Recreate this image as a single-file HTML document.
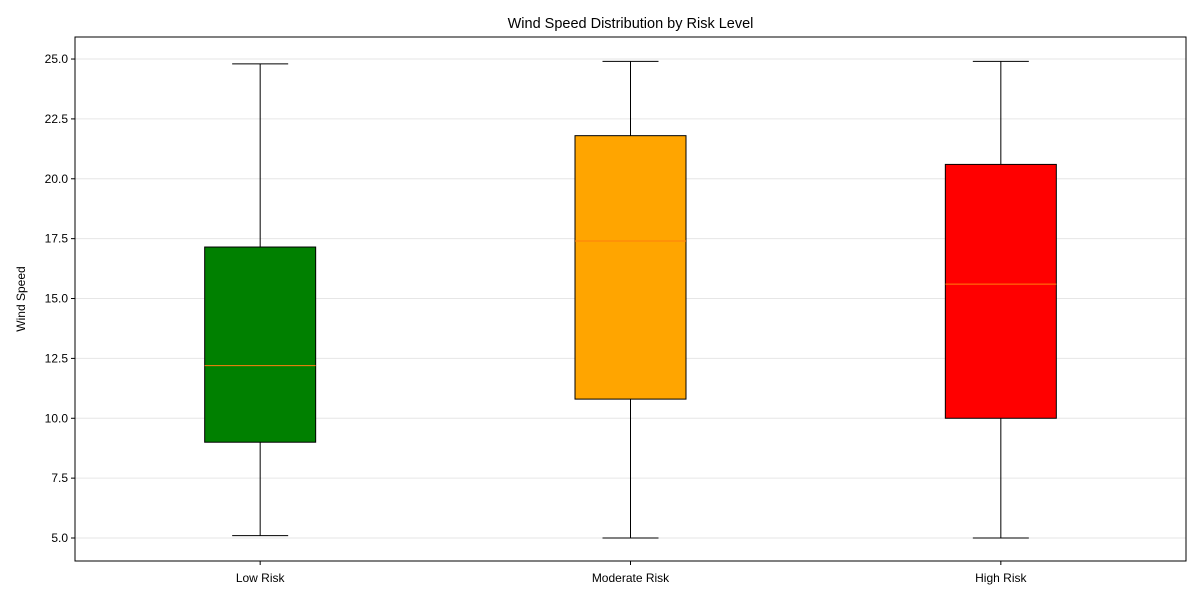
<!DOCTYPE html>
<html><head><meta charset="utf-8"><style>
body{margin:0;background:#fff;font-family:"Liberation Sans",sans-serif;}
svg text{font-family:"Liberation Sans",sans-serif;}
</style></head><body>
<svg id="chart" width="1200" height="600"></svg>
<script>
const categories=["Low Risk","Moderate Risk","High Risk"];
const colors=["#008000","#ffa500","#ff0000"];
const whiskerLow=[5.1,5.0,5.0];
const whiskerHigh=[24.8,24.9,24.9];
const q1=[9.0,10.8,10.0];
const q3=[17.15,21.8,20.6];
const medians=[12.2,17.4,15.6];
const yTicks=[5.0,7.5,10.0,12.5,15.0,17.5,20.0,22.5,25.0];

const L=75,R=1186,T=37,B=561,yMin=4.04,yMax=25.92;
const y=v=>B-(v-yMin)/(yMax-yMin)*(B-T);
const x=i=>L+(i+0.5)*(R-L)/categories.length;
const svg=document.getElementById('chart');
const NS='http://www.w3.org/2000/svg';
function add(tag,attrs,parent){const e=document.createElementNS(NS,tag);for(const k in attrs)e.setAttribute(k,attrs[k]);(parent||svg).appendChild(e);return e;}

yTicks.forEach(v=>{
  const g=add('line',{x1:L,x2:R,y1:y(v),y2:y(v),stroke:'#e6e6e6','stroke-width':1});
  
  
  const t=add('line',{x1:L-4,x2:L,y1:y(v),y2:y(v),stroke:'#000'});
  
  
  const l=add('text',{x:L-7,y:y(v)+4,'text-anchor':'end','font-size':12});
  l.textContent=v.toFixed(1);
  
  
});

categories.forEach((c,i)=>{
  const cx=x(i),bw=111,cw=56;
  const g=add('g',{});
  
  
  add('line',{x1:cx,x2:cx,y1:y(whiskerLow[i]),y2:y(q1[i]),stroke:'#000'},g);
  add('line',{x1:cx,x2:cx,y1:y(q3[i]),y2:y(whiskerHigh[i]),stroke:'#000'},g);
  add('line',{x1:cx-cw/2,x2:cx+cw/2,y1:y(whiskerLow[i]),y2:y(whiskerLow[i]),stroke:'#000'},g);
  add('line',{x1:cx-cw/2,x2:cx+cw/2,y1:y(whiskerHigh[i]),y2:y(whiskerHigh[i]),stroke:'#000'},g);
  add('rect',{x:cx-bw/2,y:y(q3[i]),width:bw,height:y(q1[i])-y(q3[i]),fill:colors[i],stroke:'#000'},g);
  add('line',{x1:cx-bw/2,x2:cx+bw/2,y1:y(medians[i]),y2:y(medians[i]),stroke:'#ff7f0e'},g);
  const tk=add('line',{x1:cx,x2:cx,y1:B,y2:B+4,stroke:'#000'});
  
  
  const l=add('text',{x:cx,y:B+21,'text-anchor':'middle','font-size':12});
  l.textContent=c;
  
  
});

const fr=add('rect',{x:L,y:T,width:R-L,height:B-T,fill:'none',stroke:'#000'});


const title=add('text',{x:(L+R)/2,y:T-9,'text-anchor':'middle','font-size':14.5});
title.textContent='Wind Speed Distribution by Risk Level';


const yt=add('text',{x:25,y:(T+B)/2,'text-anchor':'middle','font-size':12,transform:`rotate(-90 25 ${(T+B)/2})`});
yt.textContent='Wind Speed';


</script>
</body></html>
